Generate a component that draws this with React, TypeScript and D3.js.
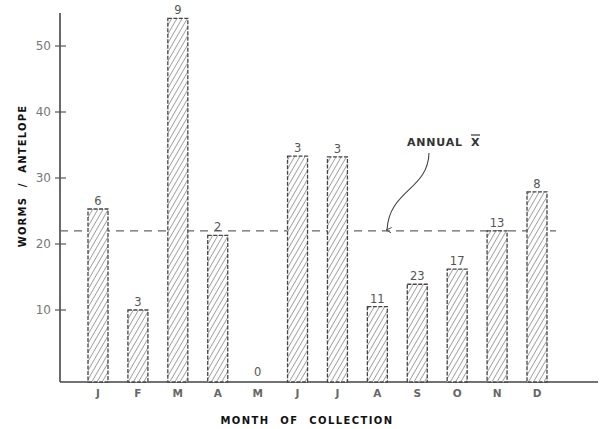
import React from "react";
import * as d3 from "d3";

const months = ["J", "F", "M", "A", "M", "J", "J", "A", "S", "O", "N", "D"];
const worms = [25.3, 10, 54.2, 21.3, 0, 33.3, 33.2, 10.5, 13.9, 16.2, 22, 27.9];
const counts = ["6", "3", "9", "2", "0", "3", "3", "11", "23", "17", "13", "8"];
const yTicks = [10, 20, 30, 40, 50];
const annualMean = 22;

const W = 602;
const H = 429;

export default function App() {
  const y = d3.scaleLinear().domain([0, 55]).range([376, 13]);
  const x = d3
    .scalePoint<number>()
    .domain(months.map((_, i) => i))
    .range([98, 537]);
  const baseY = 382;
  const axisX = 60;
  const barW = 20;
  const font = "'DejaVu Sans', 'Liberation Sans', sans-serif";
  const meanY = y(annualMean);

  return (
    <svg
      width={W}
      height={H}
      style={{ position: "absolute", left: 0, top: 0, background: "#fff" }}
    >
      <defs>
        <pattern
          id="hatch"
          patternUnits="userSpaceOnUse"
          width={4.5}
          height={4.5}
          patternTransform="rotate(30)"
        >
          <rect width={4.5} height={4.5} fill="#fdfdfd" />
          <line x1={0} y1={0} x2={0} y2={4.5} stroke="#707070" strokeWidth={1.2} />
        </pattern>
        <marker
          id="arr"
          viewBox="0 0 6 6"
          refX={3}
          refY={5}
          markerWidth={5}
          markerHeight={5}
          orient="auto-start-reverse"
        >
          <path d="M0,0 L3,6 L6,0" fill="none" stroke="#444" strokeWidth={1} />
        </marker>
      </defs>

      {/* y axis */}
      <line x1={axisX} y1={13} x2={axisX} y2={baseY} stroke="#444" strokeWidth={1.6} />
      {yTicks.map((t) => (
        <g key={t}>
          <line x1={axisX - 5} x2={axisX + 6} y1={y(t)} y2={y(t)} stroke="#555" strokeWidth={1.2} />
          <text
            x={axisX - 9}
            y={y(t)}
            dy="0.36em"
            textAnchor="end"
            fontFamily={font}
            fontSize={12}
            fill="#777"
          >
            {t}
          </text>
        </g>
      ))}

      {/* x axis */}
      <line x1={axisX} y1={baseY} x2={598} y2={baseY} stroke="#444" strokeWidth={1.6} />

      {/* mean line */}
      <line
        x1={axisX}
        x2={556}
        y1={meanY}
        y2={meanY}
        stroke="#666"
        strokeWidth={1.2}
        strokeDasharray="8,6"
      />

      {/* bars */}
      {worms.map((v, i) => {
        const cx = x(i) as number;
        const top = y(v);
        return (
          <g key={i}>
            {v > 0 && (
              <rect
                x={cx - barW / 2}
                y={top}
                width={barW}
                height={baseY - top}
                fill="url(#hatch)"
                stroke="#444"
                strokeWidth={1.3}
                strokeDasharray="4,1.5"
              />
            )}
            <text
              x={cx}
              y={v > 0 ? top - 4 : y(0)}
              textAnchor="middle"
              fontFamily={font}
              fontSize={11.5}
              fill="#555"
            >
              {counts[i]}
            </text>
            <text
              x={cx}
              y={397}
              textAnchor="middle"
              fontFamily={font}
              fontSize={10.5}
              fontWeight="bold"
              fill="#666"
            >
              {months[i]}
            </text>
          </g>
        );
      })}

      {/* annotation */}
      <text x={407} y={146} fontFamily={font} fontSize={11} fontWeight="bold" fill="#333" letterSpacing={0.8}>
        ANNUAL
      </text>
      <text x={471} y={146} fontFamily={font} fontSize={11} fontWeight="bold" fill="#333">
        X
      </text>
      <line x1={471} x2={480} y1={135} y2={135} stroke="#333" strokeWidth={1.2} />
      <path
        d="M429,153 C428,190 389,190 387,230"
        fill="none"
        stroke="#444"
        strokeWidth={1.1}
        markerEnd="url(#arr)"
      />

      {/* axis titles */}
      <text
        x={307}
        y={424}
        textAnchor="middle"
        fontFamily={font}
        fontSize={10}
        fontWeight="bold"
        fill="#111"
        letterSpacing={1.4}
        wordSpacing={6}
      >
        MONTH OF COLLECTION
      </text>
      <text
        transform="translate(26,176) rotate(-90)"
        textAnchor="middle"
        fontFamily={font}
        fontSize={10}
        fontWeight="bold"
        fill="#111"
        letterSpacing={1.2}
        wordSpacing={5}
      >
        WORMS / ANTELOPE
      </text>
    </svg>
  );
}
